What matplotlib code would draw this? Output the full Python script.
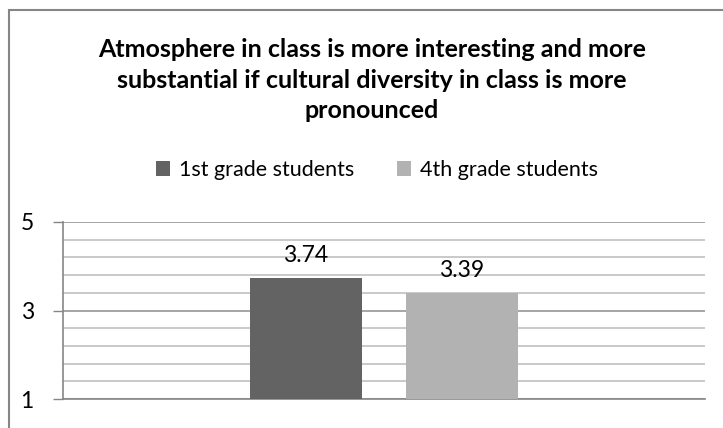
import matplotlib.pyplot as plt
import matplotlib.patches as mpatches
import numpy as np

title = ('Atmosphere in class is more interesting and more\n'
         'substantial if cultural diversity in class is more\n'
         'pronounced')
series = ['1st grade students', '4th grade students']
values = [3.74, 3.39]
colors = ['#636363', '#b2b2b2']

plt.rcParams['font.family'] = ['Lato', 'DejaVu Sans']

fig = plt.figure(figsize=(7.23, 4.28), dpi=100)
ax = fig.add_axes([63/723, 1 - 399/428, (705-63)/723, (399-222)/428])

# chart frame (runs past right and bottom edge like the source)
frame = mpatches.Rectangle((9/723, -0.1), 1.2, 1 - 10/428 + 0.1, transform=fig.transFigure,
                           fill=False, edgecolor='#868686', linewidth=1.5)
fig.add_artist(frame)

width = 112 / 642
offs = (56 + 22) / 642
xs = [-offs, offs]
bars = []
for x, v, c, s in zip(xs, values, colors, series):
    b = ax.bar(x, v - 1, bottom=1, width=width, color=c, label=s, zorder=3)
    bars.append(b)
    ax.text(x, v + 0.27, '%.2f' % v, ha='center', va='bottom', fontsize=16.5, color='#000000', zorder=4)

ax.set_xlim(-0.5, 0.5)
ax.set_ylim(1, 5)
ax.set_yticks([1, 3, 5])
ax.set_yticks(np.arange(1, 5.01, 0.4), minor=True)
ax.tick_params(axis='y', which='major', length=7, width=1, color='#868686', labelsize=16.5, pad=14)
ax.tick_params(axis='y', which='minor', length=0)
ax.set_xticks([])
ax.grid(axis='y', which='minor', color='#c0c0c0', linewidth=1.2, zorder=0)
ax.grid(axis='y', which='major', color='#969696', linewidth=1.2, zorder=0)
for sp in ['top', 'right']:
    ax.spines[sp].set_visible(False)
for sp in ['left', 'bottom']:
    ax.spines[sp].set_color('#868686')
    ax.spines[sp].set_linewidth(1.2)

fig.text(372/723, 1 - 80/428, title, ha='center', va='center', fontsize=18,
         fontweight='bold', linespacing=1.38)

fig.legend(handles=[b[0] for b in bars], labels=series, loc='center',
           bbox_to_anchor=(377/723, 1 - 170/428), ncol=2, frameon=False,
           fontsize=15.5, handlelength=0.65, handleheight=0.65, handletextpad=0.4,
           columnspacing=2.0)

fig.savefig('out.png', dpi=100)
